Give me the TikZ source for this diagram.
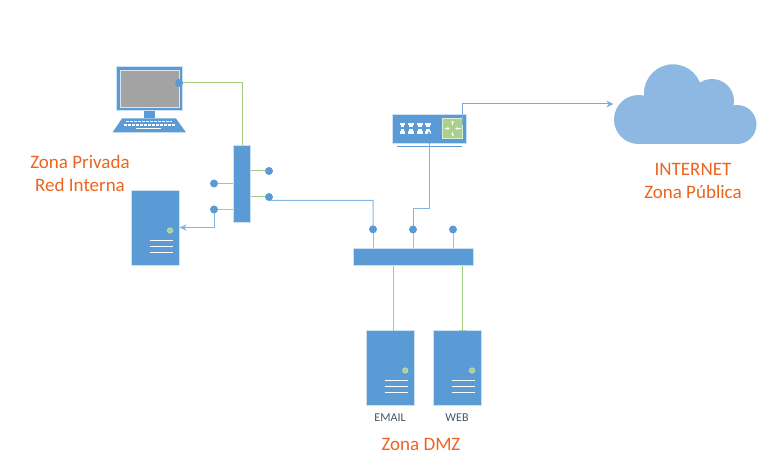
\documentclass[tikz,border=0pt]{standalone}
\usepackage{fontspec}
\setmainfont{Carlito}
\usepackage{tikz}
\usetikzlibrary{arrows.meta}
\definecolor{boxblue}{HTML}{5B9BD5}
\definecolor{linkblue}{HTML}{86B4E2}
\definecolor{cloudblue}{HTML}{8DB8E2}
\definecolor{linkgreen}{HTML}{A0CD80}
\definecolor{ledgreen}{HTML}{A9D18E}
\definecolor{zoneorange}{HTML}{EC6420}
\definecolor{namegray}{HTML}{44546A}

\begin{document}
\begin{tikzpicture}[x=1pt,y=-1pt,>={Stealth[length=7pt,width=6.5pt]},line width=1pt,
  box node/.style={fill=boxblue,draw=white!70!boxblue,line width=0.6pt,inner sep=0pt},
  port node/.style={circle,fill=boxblue,inner sep=0pt,minimum size=8pt},
  led node/.style={circle,fill=ledgreen,draw=white!50!ledgreen,line width=0.5pt,inner sep=0pt,minimum size=5.5pt},
  zone node/.style={font=\fontsize{19}{23}\selectfont,text=zoneorange,align=center},
  name node/.style={font=\fontsize{12}{14}\selectfont,text=namegray},
  green link/.style={linkgreen,line width=1pt},
  blue link/.style={linkblue,line width=1pt},
  vent/.style={white,line width=1pt}]

  \useasboundingbox (0,0) rectangle (774,465);

  % cloud
  \fill[cloudblue] (637,112) rectangle (737,144);
  \fill[cloudblue] (655,90) rectangle (715,112);
  \fill[cloudblue] (638.5,119.5) circle (24.5);
  \fill[cloudblue] (673,93.3) circle (29);
  \fill[cloudblue] (712,101) circle (22);
  \fill[cloudblue] (737,124.5) circle (19.5);
  \coordinate (cloudin) at (613.5,104);

  % pc
  \node[box node,minimum width=66.5pt,minimum height=44.5pt] (pc) at (149.3,88.3) {};
  \node[fill=black!36,draw=white!75!boxblue,line width=0.8pt,inner sep=0pt,
    minimum width=59pt,minimum height=36.5pt] (screen) at (149.7,88.7) {};
  \fill[boxblue] (143.5,111) rectangle (155,118);
  \fill[boxblue] (122,118.5) -- (176,118.5) -- (186,132.5) -- (112.5,132.5) -- cycle;
  \foreach \y/\a/\b in {121.5/126/172,125/123.5/175}
    \draw[white,line width=1.6pt,dash pattern=on 3pt off 1pt] (\a,\y) -- (\b,\y);
  \draw[white,line width=1.4pt] (136,128.8) -- (161,128.8);

  % firewall
  \node[box node,minimum width=17.5pt,minimum height=77pt] (fw) at (241.7,183.5) {};

  % private server
  \node[box node,minimum width=47.5pt,minimum height=74.5pt] (srv) at (155.5,228) {};
  \node[led node] (srvled) at (170,230.5) {};
  \foreach \y in {240.5,246.5,252.5}
    \draw[vent] (149.5,\y) -- (173,\y);

  % router
  \node[box node,minimum width=74.5pt,minimum height=29.5pt] (router) at (429.3,128.8) {};
  \draw[boxblue,line width=1.5pt] (397,146.7) -- (461.5,146.7);
  \node[fill=ledgreen,draw=white!60!ledgreen,line width=0.8pt,inner sep=0pt,
    minimum size=19.5pt] (core) at (452.5,128.5) {};
  \foreach \x in {402.5,411,419.7,428} {
    \fill[white] (\x-2.9,123) rectangle (\x+2.9,125.2);
    \fill[white] (\x-1.8,125.2) rectangle (\x+1.8,127.2);
    \fill[white] (\x-1.8,129.5) rectangle (\x+1.8,131.5);
    \fill[white] (\x-2.9,131.5) rectangle (\x+2.9,133.7);
  }
  \begin{scope}[white,line width=0.8pt,>={Stealth[length=2.5pt,width=3pt]}]
    \draw[->] (452.7,125) -- (452.7,120.5);
    \draw[->] (452.7,132) -- (452.7,136.5);
    \draw[->] (444.5,128.5) -- (449.7,128.5);
    \draw[->] (460.5,128.5) -- (455.3,128.5);
  \end{scope}
  \coordinate (routerin) at (429,131);
  \coordinate (routerout) at (462.5,125);

  % dmz switch
  \node[box node,minimum width=120pt,minimum height=17.5pt] (dmz) at (413,256.7) {};

  % dmz servers
  \node[box node,minimum width=47.5pt,minimum height=74.5pt] (email) at (390.3,368) {};
  \node[box node,minimum width=47.5pt,minimum height=74.5pt] (web) at (457.3,368) {};
  \node[led node] (emailled) at (405.3,370.5) {};
  \node[led node] (webled) at (472,370.5) {};
  \foreach \y in {380.5,386.5,392.5} {
    \draw[vent] (384.5,\y) -- (408,\y);
    \draw[vent] (451.5,\y) -- (475,\y);
  }
  \fill[boxblue] (459,330.5) arc (180:0:3.5) -- cycle;
  \coordinate (emailtop) at (393,330.5);
  \coordinate (webtop) at (462.5,331);

  % port positions
  \coordinate (pcport) at (179,83);
  \coordinate (fwa) at (269,171);
  \coordinate (fwb) at (269,197);
  \coordinate (fwc) at (214,183.5);
  \coordinate (fwd) at (214,209.5);
  \coordinate (dmza) at (373,229.3);
  \coordinate (dmzb) at (413,229.5);
  \coordinate (dmzc) at (453,229.5);

  % links
  \draw[green link] (pcport) -| ([xshift=0.8pt]fw.north);
  \draw[green link] (fwa) -- (fwa -| fw.east);
  \draw[green link] (fwb) -- (fwb -| fw.east);
  \draw[green link] (fwc) -- (fwc -| fw.west);
  \draw[green link] (fwd) -- (fwd -| fw.west);
  \draw[green link] (dmza) -- (dmza |- dmz.north);
  \draw[green link] (dmzb) -- (dmzb |- dmz.north);
  \draw[green link] (dmzc) -- (dmzc |- dmz.north);
  \draw[green link] (emailtop |- dmz.south) -- (emailtop);
  \draw[green link] (webtop |- dmz.south) -- (webtop);
  \draw[blue link] (fwb) -- (271,200.5) -- (373,200.5) -- (dmza);
  \draw[blue link,->] (fwd) |- (srv.east |- 0,227.5);
  \draw[blue link] (dmzb) |- (429,209) -- (429,144);
  \draw[boxblue,->,line width=0.8pt] (429,144) -- (routerin);
  \draw[blue link,draw=linkblue!70!boxblue,->] (routerout) |- (cloudin);

  % port dots
  \node[port node] (pcdot) at (pcport) {};
  \node[port node] (fw1) at (fwa) {};
  \node[port node] (fw2) at (fwb) {};
  \node[port node] (fw3) at (fwc) {};
  \node[port node] (fw4) at (fwd) {};
  \node[port node] (dmz1) at (dmza) {};
  \node[port node] (dmz2) at (dmzb) {};
  \node[port node] (dmz3) at (dmzc) {};

  % zone names
  \node[zone node] (zpriv) at (80,173.5) {Zona Privada\\Red Interna};
  \node[zone node] (zpub) at (693,180.5) {INTERNET\\Zona Pública};
  \node[zone node] (zdmz) at (421,444) {Zona DMZ};
  \node[name node] (emailname) at (390,418) {EMAIL};
  \node[name node] (webname) at (457,418) {WEB};

\end{tikzpicture}
\end{document}
